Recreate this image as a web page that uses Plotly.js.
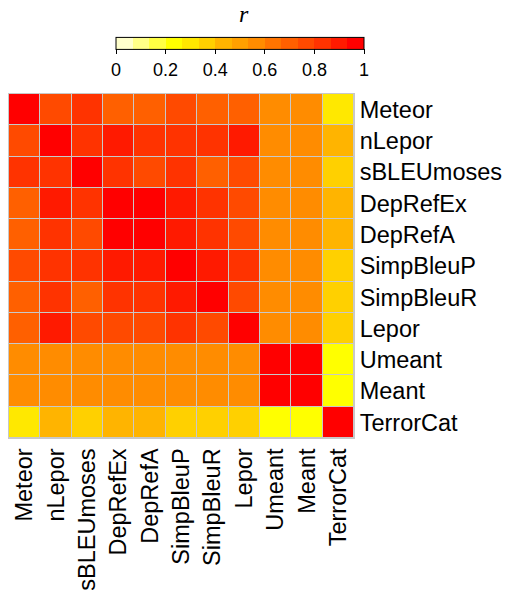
<!DOCTYPE html>
<html><head><meta charset="utf-8">
<script src="https://cdn.plot.ly/plotly-3.0.1.min.js"></script>
<style>html,body{margin:0;padding:0;background:#fff;}#chart{width:505px;height:595px;}</style>
</head><body><div id="chart"></div>
<script>
const metrics = ["Meteor","nLepor","sBLEUmoses","DepRefEx","DepRefA","SimpBleuP","SimpBleuR","Lepor","Umeant","Meant","TerrorCat"];
const rMeteor    = [1.00,0.77,0.84,0.70,0.70,0.77,0.70,0.70,0.57,0.57,0.30];
const rnLepor    = [0.77,1.00,0.84,0.90,0.84,0.84,0.84,0.90,0.57,0.57,0.44];
const rsBLEU     = [0.84,0.84,1.00,0.84,0.77,0.84,0.70,0.77,0.57,0.57,0.37];
const rDepRefEx  = [0.70,0.90,0.84,1.00,0.97,0.90,0.84,0.77,0.57,0.57,0.44];
const rDepRefA   = [0.70,0.84,0.77,0.97,1.00,0.90,0.84,0.77,0.57,0.57,0.44];
const rSimpBleuP = [0.77,0.84,0.84,0.90,0.90,1.00,0.90,0.84,0.57,0.57,0.37];
const rSimpBleuR = [0.70,0.84,0.70,0.84,0.84,0.90,1.00,0.77,0.57,0.57,0.37];
const rLepor     = [0.70,0.90,0.77,0.77,0.77,0.84,0.77,1.00,0.57,0.57,0.37];
const rUmeant    = [0.57,0.57,0.57,0.57,0.57,0.57,0.57,0.57,1.00,0.97,0.23];
const rMeant     = [0.57,0.57,0.57,0.57,0.57,0.57,0.57,0.57,0.97,1.00,0.23];
const rTerrorCat = [0.30,0.44,0.37,0.44,0.44,0.37,0.37,0.37,0.23,0.23,1.00];
const z = [rMeteor,rnLepor,rsBLEU,rDepRefEx,rDepRefA,rSimpBleuP,rSimpBleuR,rLepor,rUmeant,rMeant,rTerrorCat];
const colorbarTicks = [0,0.2,0.4,0.6,0.8,1];
const colorbarTickText = ["0","0.2","0.4","0.6","0.8","1"];

const bandColors = ["#FFFFCC","#FFFF88","#FFFF44","#FFFF00","#FFE800","#FFD000","#FFB400","#FFA000","#FF8C00","#FF7400","#FF6000","#FF4A00","#FF3300","#FF1A00","#FF0000"];
const cs = [];
bandColors.forEach((c,i)=>{cs.push([i/bandColors.length,c]);cs.push([(i+1)/bandColors.length,c]);});

const labelFont = {family:"Liberation Sans, Arial, sans-serif", size:23.5, color:"#000"};
const trace = {
  type:"heatmap", x:metrics, y:metrics, z:z, zmin:0, zmax:1,
  colorscale:cs, xgap:1, ygap:1, hoverongaps:false,
  colorbar:{orientation:"h", x:0.6696, xanchor:"center", y:1.037, yanchor:"bottom",
    lenmode:"pixels", len:248, thickness:12, thicknessmode:"pixels",
    outlinecolor:"#000", outlinewidth:1, ticks:"outside", ticklen:5, tickcolor:"#000",
    tickvals:colorbarTicks, ticktext:colorbarTickText,
    tickfont:{family:"Liberation Sans, Arial, sans-serif", size:18, color:"#000"},
    xpad:0, ypad:0}
};
const layout = {
  width:505, height:595, margin:{l:9, r:151, t:94, b:157, autoexpand:false},
  paper_bgcolor:"#fff", plot_bgcolor:"#c8c8c8",
  xaxis:{type:"category", tickangle:-90, tickfont:labelFont, ticks:"", showgrid:false, zeroline:false,
    showline:true, mirror:true, linecolor:"#c8c8c8", linewidth:1, automargin:false},
  yaxis:{type:"category", autorange:"reversed", side:"right", tickfont:labelFont, ticks:"", showgrid:false, zeroline:false,
    showline:true, mirror:true, linecolor:"#c8c8c8", linewidth:1, automargin:false},
  annotations:[{text:"<i>r</i>", xref:"paper", yref:"paper", x:0.6812, y:1.232, xanchor:"center", yanchor:"middle",
    showarrow:false, font:{family:"Liberation Serif, serif", size:24, color:"#000"}}],
  showlegend:false
};
Plotly.newPlot("chart",[trace],layout,{displayModeBar:false, staticPlot:true});
</script></body></html>
